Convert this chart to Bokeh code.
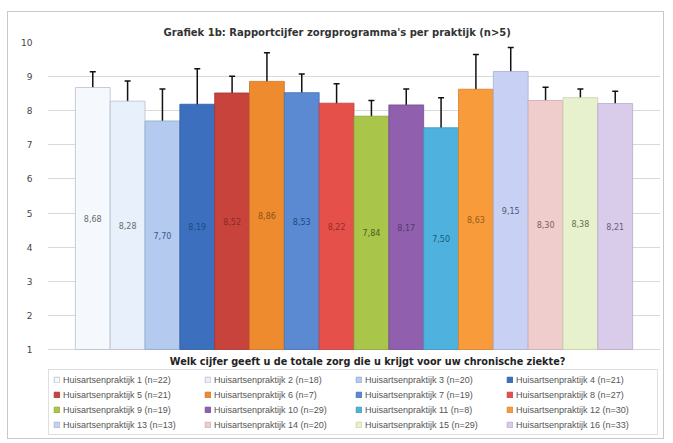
from bokeh.plotting import figure
from bokeh.models import (ColumnDataSource, Range1d, FixedTicker, Whisker, TeeHead,
                          Legend, LegendItem, Label)
from bokeh.core.properties import value
from bokeh.embed import file_html
from bokeh.resources import INLINE

# ---- data ----
practices = [f"Huisartsenpraktijk {i}" for i in range(1, 17)]
n_resp = [22, 18, 20, 21, 21, 7, 19, 27, 19, 29, 8, 30, 13, 20, 29, 33]
scores = [8.68, 8.28, 7.70, 8.19, 8.52, 8.86, 8.53, 8.22, 7.84, 8.17, 7.50, 8.63, 9.15, 8.30, 8.38, 8.21]
err_upper = [9.14, 8.87, 8.64, 9.23, 9.01, 9.70, 9.08, 8.79, 8.30, 8.64, 8.38, 9.65, 9.85, 8.69, 8.64, 8.57]
err_lower = [8.23, 7.69, 6.77, 7.18, 8.02, 8.02, 7.94, 7.65, 7.37, 7.72, 6.59, 7.62, 8.45, 7.86, 8.07, 7.79]
y_ticks = [1, 2, 3, 4, 5, 6, 7, 8, 9, 10]

fills = ["#f5f8fd", "#e8f0fb", "#b4caee", "#3c70bf", "#c8433b", "#ee8b2f", "#5b89d2", "#e5504b",
         "#a9c64b", "#9060ae", "#4fb2de", "#f89b3b", "#c8d0f4", "#efcdcd", "#e8f1cd", "#d9cbea"]
edges = ["#b8c0cc", "#b8c0cc", "#8fa8d0", "#2f5c9e", "#a8352e", "#c97424", "#4570b0", "#c24040",
         "#8aa63a", "#754a90", "#3a93bb", "#d5822e", "#a6aed2", "#cfaaaa", "#c5d0a8", "#b8aacb"]
label_colors = ["#6b6b6b", "#6b6b6b", "#3b5a8c", "#1d4a85", "#8a2b24", "#8a5418", "#1d4a85", "#962d28",
                "#4b6020", "#553870", "#1b5b78", "#9a5a18", "#50587c", "#7a6060", "#657048", "#6a5d80"]

xs = list(range(len(scores)))
src = ColumnDataSource(dict(
    x=xs, top=scores, fill=fills, edge=edges,
    ymid=[(1 + v) / 2 for v in scores],
    txt=[f"{v:.2f}".replace(".", ",") for v in scores],
    tcol=label_colors, up=err_upper, lo=err_lower,
    legend=[f"{p} (n={n})" for p, n in zip(practices, n_resp)],
))

# frame spans from the top gridline down to the bottom of the chart box,
# so that caption and legend can live inside it (below value 1)
p = figure(width=657, height=428, output_backend="svg", toolbar_location=None,
           x_range=Range1d(-1.3, 16.3), y_range=Range1d(-1.668, 10),
           min_border_left=39, min_border_right=5, min_border_top=30, min_border_bottom=0)
p.styles = {"border": "1px solid #c8c8c8", "margin": "11px 0 0 7px"}

p.title.text = "Grafiek 1b: Rapportcijfer zorgprogramma's per praktijk (n>5)"
p.title.text_font = "DejaVu Sans"
p.title.text_font_style = "bold"
p.title.text_font_size = "10px"
p.title.text_color = "#333333"
p.title.align = "left"
p.title.offset = 116
p.title.standoff = 10

bars = p.vbar(x="x", top="top", bottom=1, width=1, source=src,
              fill_color="fill", line_color="edge", line_width=0.8)

p.add_layout(Whisker(base="x", upper="up", lower="lo", source=src,
                     line_color="#111111", line_width=1.5,
                     upper_head=TeeHead(size=6, line_color="#111111", line_width=1.5),
                     lower_head=TeeHead(size=6, line_color="#111111", line_width=1.5)))

p.text(x="x", y="ymid", text="txt", source=src, text_color="tcol",
       text_font=value("DejaVu Sans"), text_font_size="8px",
       text_align="center", text_baseline="middle")

# axes
p.xaxis.visible = False
p.yaxis.ticker = FixedTicker(ticks=y_ticks)
p.yaxis.axis_line_color = None
p.yaxis.major_tick_line_color = None
p.yaxis.minor_tick_line_color = None
p.yaxis.major_label_text_font = "DejaVu Sans"
p.yaxis.major_label_text_font_size = "9px"
p.yaxis.major_label_text_color = "#444444"
p.yaxis.major_label_standoff = 9
p.xgrid.visible = False
p.ygrid.grid_line_color = "#d9d9d9"
p.outline_line_color = None

p.add_layout(Label(x=7.89, y=0.648,
                   text="Welk cijfer geeft u de totale zorg die u krijgt voor uw chronische ziekte?",
                   text_font="DejaVu Sans", text_font_style="bold", text_font_size="9.7px",
                   text_color="#222222", text_align="center", text_baseline="middle"))

# legend: 4 rows x 4 columns, read row by row (column-major fill -> reorder)
order = [r * 4 + c for c in range(4) for r in range(4)]
items = [LegendItem(label=src.data["legend"][i], renderers=[bars], index=i) for i in order]
legend = Legend(items=items, orientation="vertical", nrows=4,
                location=(1, 5), label_text_font="Liberation Sans", label_text_font_size="9px",
                label_text_color="#555555", glyph_width=7, glyph_height=7, label_standoff=3,
                label_width=137, label_height=11, spacing=4, padding=4, margin=0,
                border_line_color="#c0c0c0", border_line_width=1, background_fill_alpha=1)
p.add_layout(legend, "center")

open("out.html", "w").write(file_html(p, INLINE))
